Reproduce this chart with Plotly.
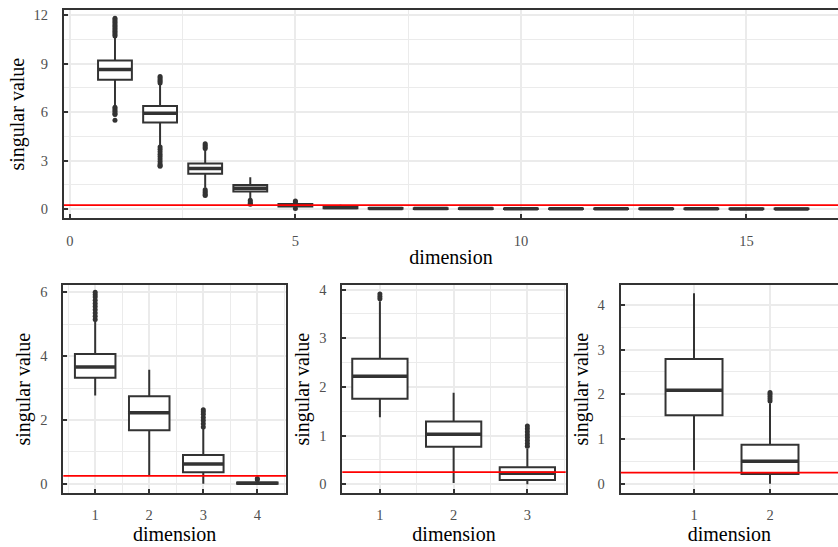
import plotly.graph_objects as go

# ---------------- data ----------------
# top panel: 16 dimensions
top_dim = list(range(1, 17))
top_q1 = [8.00, 5.36, 2.19, 1.10, 0.17, 0.06, 0.03, 0.02, 0.02, 0.02, 0.01, 0.01, 0.01, 0.01, 0.01, 0.01]
top_med = [8.63, 5.93, 2.52, 1.29, 0.25, 0.10, 0.05, 0.04, 0.04, 0.03, 0.03, 0.03, 0.03, 0.03, 0.02, 0.02]
top_q3 = [9.18, 6.38, 2.82, 1.50, 0.32, 0.15, 0.08, 0.06, 0.06, 0.05, 0.05, 0.05, 0.05, 0.04, 0.04, 0.04]
top_lo = [6.35, 3.93, 1.33, 0.62, 0.08, 0.00, 0.00, 0.00, 0.00, 0.00, 0.00, 0.00, 0.00, 0.00, 0.00, 0.00]
top_hi = [10.65, 7.77, 3.70, 1.98, 0.42, 0.28, 0.14, 0.11, 0.11, 0.10, 0.10, 0.10, 0.10, 0.09, 0.09, 0.09]
top_out_dim = [1] * 19 + [2] * 15 + [3] * 9 + [4] * 4 + [5] * 3
top_out_val = [10.7, 10.8, 10.9, 11.0, 11.1, 11.2, 11.3, 11.4, 11.5, 11.6, 11.7, 11.8,
               6.3, 6.2, 6.1, 6.0, 5.9, 5.85, 5.5,
               7.8, 7.9, 8.0, 8.1, 8.2,
               3.85, 3.7, 3.55, 3.4, 3.25, 3.1, 2.95, 2.8, 2.7, 2.65,
               3.75, 3.85, 3.95, 4.05,
               1.2, 1.1, 1.0, 0.9, 0.85,
               0.55, 0.45, 0.35, 0.3,
               0.45, 0.5, 0.04]

# bottom-left panel: 4 dimensions
a_dim = [1, 2, 3, 4]
a_q1 = [3.32, 1.68, 0.36, 0.00]
a_med = [3.66, 2.23, 0.62, 0.02]
a_q3 = [4.07, 2.74, 0.90, 0.04]
a_lo = [2.77, 0.26, 0.00, 0.00]
a_hi = [5.10, 3.57, 1.72, 0.10]
a_out_dim = [1] * 10 + [3] * 7 + [4] * 2
a_out_val = [5.15, 5.25, 5.35, 5.45, 5.55, 5.65, 5.75, 5.85, 5.92, 6.0,
             1.78, 1.88, 1.98, 2.08, 2.18, 2.26, 2.32,
             0.13, 0.17]

# bottom-middle panel: 3 dimensions
b_dim = [1, 2, 3]
b_q1 = [1.76, 0.77, 0.09]
b_med = [2.22, 1.03, 0.23]
b_q3 = [2.58, 1.29, 0.35]
b_lo = [1.38, 0.03, 0.00]
b_hi = [3.76, 1.88, 0.73]
b_out_dim = [1] * 3 + [3] * 8
b_out_val = [3.81, 3.86, 3.91,
             0.78, 0.84, 0.9, 0.96, 1.02, 1.08, 1.14, 1.2]

# bottom-right panel: 2 dimensions
c_dim = [1, 2]
c_q1 = [1.53, 0.22]
c_med = [2.09, 0.50]
c_q3 = [2.79, 0.87]
c_lo = [0.30, 0.00]
c_hi = [4.26, 1.80]
c_out_dim = [2] * 5
c_out_val = [1.85, 1.9, 1.95, 2.0, 2.04]

threshold = 0.25

# ---------------- styling ----------------
DARK = "#333333"
GRID = "#ebebeb"
TICKC = "#505050"
FONT = "Liberation Serif, Times New Roman, serif"
BOXW = 0.75
TICKSIZE = 14.5

W, H = 838, 547


def px_x(p):
    return p / W


def px_y(p):
    return 1 - p / H


fig = go.Figure()

panels = [
    # suffix, dims, q1, med, q3, lo, hi, out_dim, out_val
    ("", top_dim, top_q1, top_med, top_q3, top_lo, top_hi, top_out_dim, top_out_val),
    ("2", a_dim, a_q1, a_med, a_q3, a_lo, a_hi, a_out_dim, a_out_val),
    ("3", b_dim, b_q1, b_med, b_q3, b_lo, b_hi, b_out_dim, b_out_val),
    ("4", c_dim, c_q1, c_med, c_q3, c_lo, c_hi, c_out_dim, c_out_val),
]

for sfx, d, q1, med, q3, lo, hi, od, ov in panels:
    xa, ya = "x" + sfx, "y" + sfx
    fig.add_trace(go.Box(
        x=d, q1=q1, median=med, q3=q3, lowerfence=lo, upperfence=hi,
        width=BOXW, whiskerwidth=0, boxpoints=False,
        fillcolor="white", line=dict(color=DARK, width=2),
        xaxis=xa, yaxis=ya, showlegend=False, hoverinfo="skip",
    ))
    # thick median bars
    mx, my = [], []
    for xi, m in zip(d, med):
        mx += [xi - BOXW / 2, xi + BOXW / 2, None]
        my += [m, m, None]
    fig.add_trace(go.Scatter(
        x=mx, y=my, mode="lines", line=dict(color=DARK, width=3.5),
        xaxis=xa, yaxis=ya, showlegend=False, hoverinfo="skip",
    ))
    # outlying points
    fig.add_trace(go.Scatter(
        x=od, y=ov, mode="markers", marker=dict(color=DARK, size=5),
        xaxis=xa, yaxis=ya, showlegend=False, hoverinfo="skip",
    ))
    # threshold line
    fig.add_shape(type="line", xref=xa + " domain", yref=ya,
                  x0=0, x1=1, y0=threshold, y1=threshold,
                  line=dict(color="#ff0000", width=1.8), layer="above")


def xaxis_cfg(dom, rng, tickvals, minor_dtick, standoff):
    cfg = dict(
        domain=dom, range=rng, tickvals=tickvals,
        ticks="inside", ticklen=4, tickwidth=1.5, tickcolor=DARK,
        tickfont=dict(family=FONT, size=TICKSIZE, color=TICKC),
        ticklabelstandoff=8,
        showgrid=True, gridcolor=GRID, gridwidth=1.5,
        showline=True, linecolor=DARK, linewidth=2, mirror=True,
        zeroline=False, fixedrange=True,
        title=dict(text="dimension", font=dict(family=FONT, size=20, color="black"),
                   standoff=standoff),
    )
    if minor_dtick:
        cfg["minor"] = dict(dtick=minor_dtick, tick0=0, showgrid=True,
                            gridcolor=GRID, gridwidth=1, ticks="")
    return cfg


def yaxis_cfg(dom, rng, tickvals, minor_dtick, mirror, standoff):
    return dict(
        domain=dom, range=rng, tickvals=tickvals,
        ticks="inside", ticklen=4, tickwidth=1.5, tickcolor=DARK,
        tickfont=dict(family=FONT, size=TICKSIZE, color=TICKC),
        ticklabelstandoff=11,
        showgrid=True, gridcolor=GRID, gridwidth=1.5,
        minor=dict(dtick=minor_dtick, tick0=0, showgrid=True,
                   gridcolor=GRID, gridwidth=1, ticks=""),
        showline=True, linecolor=DARK, linewidth=2, mirror=mirror,
        zeroline=False, fixedrange=True,
        title=dict(text="singular value", font=dict(family=FONT, size=20, color="black"),
                   standoff=standoff),
    )


top_y = [px_y(216), px_y(6)]
bot_y = [px_y(492.7), px_y(283.3)]

fig.update_layout(
    width=W, height=H,
    margin=dict(l=0, r=0, t=0, b=0),
    paper_bgcolor="white", plot_bgcolor="white",
    font=dict(family=FONT),
    xaxis=xaxis_cfg([px_x(64), 1.0], [-0.13, 17.03], [0, 5, 10, 15], 2.5, 2),
    yaxis=yaxis_cfg(top_y, [-0.57, 12.31], [0, 3, 6, 9, 12], 1.5, False, 4),
    xaxis2=xaxis_cfg([px_x(63.3), px_x(286)], [0.41, 4.53], a_dim, 0.5, 2),
    yaxis2=yaxis_cfg(bot_y, [-0.29, 6.22], [0, 2, 4, 6], 1, True, 4),
    xaxis3=xaxis_cfg([px_x(342.3), px_x(565.7)], [0.49, 3.52], b_dim, 0.5, 2),
    yaxis3=yaxis_cfg(bot_y, [-0.18, 4.09], [0, 1, 2, 3, 4], 0.5, True, 4),
    xaxis4=xaxis_cfg([px_x(620.7), 1.0], [0.035, 2.895], c_dim, None, 2),
    yaxis4=yaxis_cfg(bot_y, [-0.21, 4.44], [0, 1, 2, 3, 4], 0.5, False, 4),
)
for sfx in ["", "2", "3", "4"]:
    fig.layout["xaxis" + sfx].anchor = "y" + sfx
    fig.layout["yaxis" + sfx].anchor = "x" + sfx

fig.write_html("out.html")
